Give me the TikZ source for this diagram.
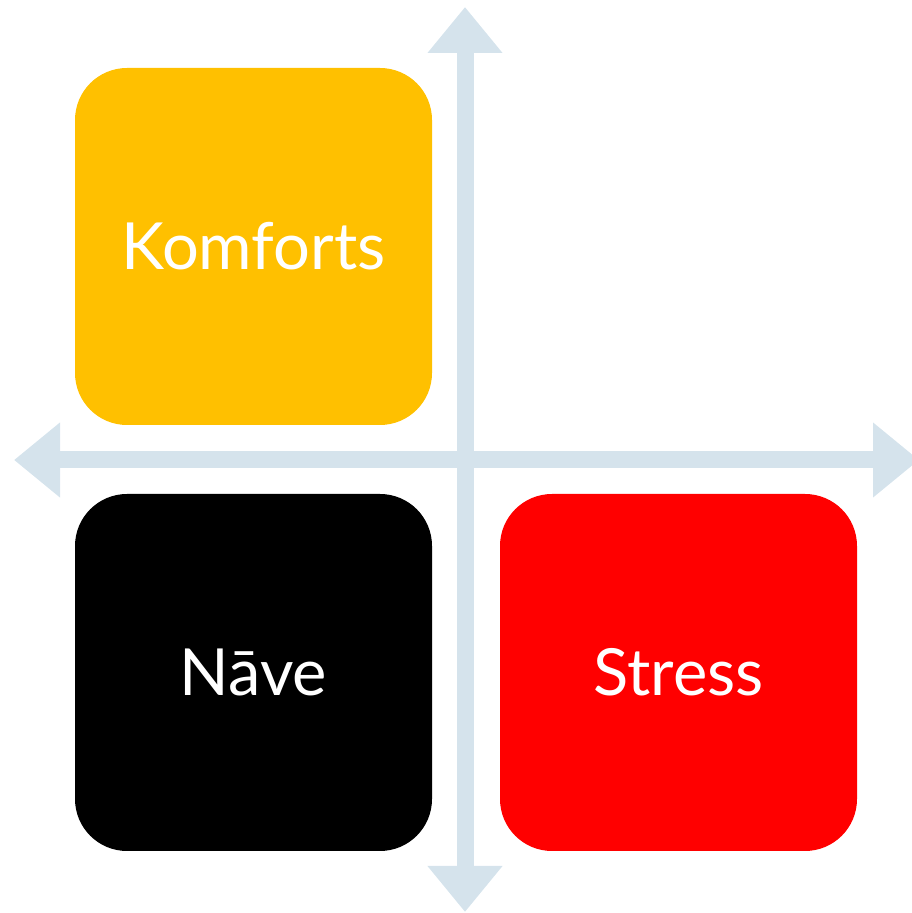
\documentclass[tikz,border=0pt]{standalone}
\usepackage{fontspec}
\setmainfont{Lato}
\usetikzlibrary{positioning,arrows.meta}
\definecolor{AxisBlue}{RGB}{213,227,236}
\definecolor{KomfortGold}{RGB}{255,192,0}
\definecolor{StressRed}{RGB}{255,0,0}

\begin{document}
\begin{tikzpicture}[x=1pt, y=1pt, font=\fontsize{65}{70}\selectfont, every node/.style={align=center}]
\tikzset{
  quadbox/.style={rounded corners=52pt, minimum width=357pt, minimum height=357pt, text=white, inner sep=0pt},
  axis/.style={AxisBlue, line width=17pt, {Triangle[length=46pt,width=72pt]}-{Triangle[length=46pt,width=72pt]}}
}
  \useasboundingbox (0,0) rectangle (912,913);
  \coordinate (top) at (465,906);
  \coordinate (bottom) at (465,1);
  \coordinate (left) at (14,453);
  \coordinate (right) at (919,453);
  \draw[axis] (bottom) -- (top);
  \draw[axis] (left) -- (right);
  \node[quadbox, fill=KomfortGold] (komforts) at (253.5,666.5) {Komforts};
  \node[quadbox, fill=black] (nave) at (253.5,240.5) {Nāve};
  \node[quadbox, fill=StressRed] (stress) at (678.5,240.5) {Stress};
\end{tikzpicture}
\end{document}
